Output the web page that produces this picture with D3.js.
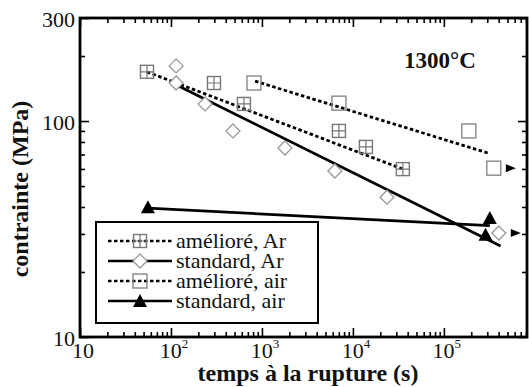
<!DOCTYPE html>
<html><head><meta charset="utf-8">
<script src="https://cdn.jsdelivr.net/npm/d3@7"></script>
<style>body{margin:0;background:#fff}svg{display:block}</style>
</head><body><svg id="c" width="529" height="387"></svg>
<script>
// ---- data ----
const xMajor = [10, 1e2, 1e3, 1e4, 1e5];
const xMajorExp = ["", "2", "3", "4", "5"];
const yMajor = [10, 100, 300];
const yMajorLabels = ["10", "100", "300"];

const amelioreArT = [54.5, 297, 634, 7020, 13900, 35400];
const amelioreArS = [169, 150, 120, 90, 75.9, 59.9];
const amelioreArFitT = [54.5, 35400];
const amelioreArFitS = [169, 59.9];

const standardArT = [114, 114, 237, 480, 1790, 6340, 23700, 402000];
const standardArS = [180, 150, 120, 90, 75, 58.7, 44.4, 30.3];
const standardArFitT = [118, 420000];
const standardArFitS = [146, 26.4];

const amelioreAirT = [817, 7020, 188000, 354000];
const amelioreAirS = [150, 121, 90, 60.5];
const amelioreAirFitT = [840, 305000];
const amelioreAirFitS = [153, 71.1];

const standardAirT = [55.8, 320000, 287000];
const standardAirS = [39.5, 35.2, 29.4];
const standardAirFitT = [55.8, 320000];
const standardAirFitS = [39.5, 32.8];

// run-out (unbroken) specimens, marked with an arrow
const runoutT = [354000, 402000];
const runoutS = [60.5, 30.3];

const legendLabels = ["amélioré, Ar", "standard, Ar", "amélioré, air", "standard, air"];

// ---- chart ----
const svg = d3.select("#c");
const L = 80, R = 527, T = 18, B = 337;
const x = d3.scaleLog().domain([10, 8.2e5]).range([L, R]);
const y = d3.scaleLog().domain([10, 300]).range([B, T]);
const serif = "'Liberation Serif','Times New Roman',serif";

const xMinor = [];
xMajor.forEach(d => { for (let k = 2; k <= 9; k++) if (d * k <= 8.2e5) xMinor.push(d * k); });
const yMinor = [];
[10, 100].forEach(d => { for (let k = 2; k <= 9; k++) if (d * k < 300) yMinor.push(d * k); });

function ax(gen, tr, vals, size) {
  const g = svg.append("g").attr("transform", tr)
    .call(gen.tickValues(vals).tickSize(size).tickFormat(""));
  g.select(".domain").remove();
  g.selectAll("line").attr("stroke", "#000").attr("stroke-width", 1.6);
}
ax(d3.axisBottom(x), `translate(0,${B})`, xMajor, -9);
ax(d3.axisBottom(x), `translate(0,${B})`, xMinor, -5);
ax(d3.axisTop(x), `translate(0,${T})`, xMajor, -9);
ax(d3.axisTop(x), `translate(0,${T})`, xMinor, -5);
ax(d3.axisLeft(y), `translate(${L},0)`, yMajor, -9);
ax(d3.axisLeft(y), `translate(${L},0)`, yMinor, -5);
ax(d3.axisRight(y), `translate(${R},0)`, yMajor, -9);
ax(d3.axisRight(y), `translate(${R},0)`, yMinor, -5);

svg.append("rect").attr("x", L).attr("y", T).attr("width", R - L).attr("height", B - T)
  .attr("fill", "none").attr("stroke", "#000").attr("stroke-width", 2.8);

// tick labels
xMajor.forEach((v, i) => {
  const t = svg.append("text").attr("x", x(v) + 3).attr("y", 358)
    .attr("text-anchor", "middle").attr("font-family", serif).attr("font-size", 22).attr("fill", "#111").text("10");
  if (xMajorExp[i]) t.append("tspan").attr("dy", -10).attr("font-size", 13).text(xMajorExp[i]);
});
yMajor.forEach((v, i) => {
  svg.append("text").attr("x", 75).attr("y", y(v) + 9).attr("text-anchor", "end")
    .attr("font-family", serif).attr("font-size", 22).attr("fill", "#111").text(yMajorLabels[i]);
});

// titles
svg.append("text").attr("x", 308).attr("y", 381).attr("text-anchor", "middle")
  .attr("font-family", serif).attr("font-weight", "bold").attr("font-size", 24).attr("fill", "#111")
  .text("temps à la rupture (s)");
svg.append("text").attr("transform", "translate(28,189) rotate(-90)").attr("text-anchor", "middle")
  .attr("font-family", serif).attr("font-weight", "bold").attr("font-size", 24).attr("fill", "#111")
  .text("contrainte (MPa)");
svg.append("text").attr("x", 440).attr("y", 68).attr("text-anchor", "middle")
  .attr("font-family", serif).attr("font-weight", "bold").attr("font-size", 23).attr("fill", "#111")
  .text("1300°C");

// markers
function marker(g, type, cx, cy) {
  if (type === "sqx") {
    const s = 13;
    g.append("rect").attr("x", cx - s / 2).attr("y", cy - s / 2).attr("width", s).attr("height", s)
      .attr("fill", "none").attr("stroke", "#777").attr("stroke-width", 1.4);
    g.append("path").attr("d", `M${cx - s / 2},${cy}H${cx + s / 2}M${cx},${cy - s / 2}V${cy + s / 2}`)
      .attr("stroke", "#777").attr("stroke-width", 1.2);
  } else if (type === "sq") {
    const s = 14;
    g.append("rect").attr("x", cx - s / 2).attr("y", cy - s / 2).attr("width", s).attr("height", s)
      .attr("fill", "none").attr("stroke", "#888").attr("stroke-width", 1.4);
  } else if (type === "dia") {
    const r = 7;
    g.append("path").attr("d", `M${cx},${cy - r}L${cx + r},${cy}L${cx},${cy + r}L${cx - r},${cy}Z`)
      .attr("fill", "#fff").attr("stroke", "#999").attr("stroke-width", 1.3);
  } else if (type === "tri") {
    g.append("path").attr("d", `M${cx},${cy - 8}L${cx + 7},${cy + 5}L${cx - 7},${cy + 5}Z`).attr("fill", "#000");
  }
}

const series = [
  { t: amelioreArT, s: amelioreArS, ft: amelioreArFitT, fs: amelioreArFitS, m: "sqx", dash: "3.5,2.5" },
  { t: standardArT, s: standardArS, ft: standardArFitT, fs: standardArFitS, m: "dia", dash: null },
  { t: amelioreAirT, s: amelioreAirS, ft: amelioreAirFitT, fs: amelioreAirFitS, m: "sq", dash: "3.5,2.5" },
  { t: standardAirT, s: standardAirS, ft: standardAirFitT, fs: standardAirFitS, m: "tri", dash: null }
];
const line = d3.line().x(d => x(d[0])).y(d => y(d[1]));
const plot = svg.append("g");
series.forEach(se => {
  const pts = se.ft.map((t, i) => [t, se.fs[i]]);
  plot.append("path").attr("d", line(pts)).attr("fill", "none").attr("stroke", "#000")
    .attr("stroke-width", 2.8).attr("stroke-dasharray", se.dash);
});
series.forEach(se => {
  se.t.forEach((t, i) => marker(plot, se.m, x(t), y(se.s[i])));
});
runoutT.forEach((t, i) => {
  const cx = x(t) + 17, cy = y(runoutS[i]);
  plot.append("path").attr("d", `M${cx - 5},${cy - 4}L${cx + 5},${cy}L${cx - 5},${cy + 4}Z`).attr("fill", "#000");
});

// legend
const lg = svg.append("g");
lg.append("rect").attr("x", 96).attr("y", 222).attr("width", 222).attr("height", 101)
  .attr("fill", "#fff").attr("stroke", "#000").attr("stroke-width", 2);
legendLabels.forEach((lab, i) => {
  const cy = 241 + i * 20;
  const se = series[i];
  lg.append("line").attr("x1", 108).attr("x2", 172).attr("y1", cy).attr("y2", cy)
    .attr("stroke", "#000").attr("stroke-width", 2.5).attr("stroke-dasharray", se.dash);
  marker(lg, se.m, 140, cy + (se.m === "tri" ? 1 : 0));
  lg.append("text").attr("x", 176).attr("y", cy + 7).attr("font-family", serif)
    .attr("font-size", 22).attr("fill", "#111").text(lab);
});
</script></body></html>
